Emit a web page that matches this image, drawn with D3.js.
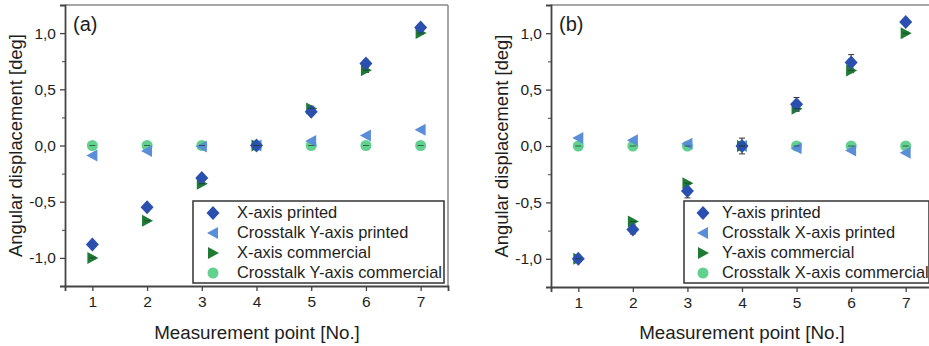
<!DOCTYPE html>
<html>
<head>
<meta charset="utf-8">
<script src="https://cdn.jsdelivr.net/npm/d3@7"></script>
<style>
  body { margin: 0; background: #fff; }
  svg { display: block; font-family: 'Liberation Sans', Arial, sans-serif; }
</style>
</head>
<body>
<div id="chart"></div>
<script>
// Dati — mjerne točke 1..7
const points = [1, 2, 3, 4, 5, 6, 7];
const yTicks = [-1, -0.5, 0, 0.5, 1];

// Panel (a)
const aPrinted      = [-0.88, -0.55, -0.29, 0.0, 0.30, 0.73, 1.05];
const aCrossPrinted = [-0.09, -0.05, -0.01, 0.0, 0.04, 0.09, 0.14];
const aCommercial   = [-1.0, -0.67, -0.34, 0.0, 0.33, 0.67, 1.0];
const aCrossComm    = [0, 0, 0, 0, 0, 0, 0];
const aPrintedErr   = [0.02, 0.02, 0.02, 0.02, 0.03, 0.03, 0.02];
const aCommErr      = [0.01, 0.01, 0.01, 0.02, 0.02, 0.02, 0.01];

// Panel (b)
const bPrinted      = [-1.0, -0.74, -0.40, 0.0, 0.37, 0.74, 1.10];
const bCrossPrinted = [0.07, 0.05, 0.02, 0.0, -0.02, -0.04, -0.06];
const bCommercial   = [-1.0, -0.67, -0.33, 0.0, 0.33, 0.67, 1.0];
const bCrossComm    = [0, 0, 0, 0, 0, 0, 0];
const bPrintedErr   = [0.02, 0.04, 0.06, 0.07, 0.06, 0.07, 0.02];
const bCommErr      = [0.01, 0.01, 0.01, 0.02, 0.02, 0.02, 0.01];

const aLabels = ['X-axis printed', 'Crosstalk Y-axis printed', 'X-axis commercial', 'Crosstalk Y-axis commercial'];
const bLabels = ['Y-axis printed', 'Crosstalk X-axis printed', 'Y-axis commercial', 'Crosstalk X-axis commercial'];

const COL = { printed: '#2b4fae', crossP: '#5b8ed8', comm: '#1f7a36', crossC: '#62d08e' };

const W = 929, H = 346;
const svg = d3.select('#chart').append('svg').attr('width', W).attr('height', H);

const fmt = d => d3.format('.1f')(d).replace('.', ',').replace('−', '-');

// Oblici markera
function marker(g, type, x, y, col) {
  if (type === 'diamond') {
    g.append('path').attr('d', `M${x},${y - 7}L${x + 6.5},${y}L${x},${y + 7}L${x - 6.5},${y}Z`).attr('fill', col);
  } else if (type === 'left') {
    g.append('path').attr('d', `M${x - 6},${y}L${x + 5},${y - 6}L${x + 5},${y + 6}Z`).attr('fill', col);
  } else if (type === 'right') {
    g.append('path').attr('d', `M${x + 6},${y}L${x - 5},${y - 6}L${x - 5},${y + 6}Z`).attr('fill', col);
  } else {
    g.append('circle').attr('cx', x).attr('cy', y).attr('r', 5.5).attr('fill', col);
  }
}

function panel(o) {
  const { left, right, top, bottom, series, labels, tag, legX, legMk, legTx, labX, titleX } = o;
  const x = d3.scaleLinear().domain([0.5, 7.5]).range([left, right]);
  const y = d3.scaleLinear().domain([-1.25, 1.25]).range([bottom, top]);
  const g = svg.append('g');

  // okvir — gornja i desna strana svjetlije
  g.append('line').attr('x1', left).attr('x2', right).attr('y1', top).attr('y2', top).attr('stroke', '#888').attr('stroke-width', 1.5);
  g.append('line').attr('x1', right).attr('x2', right).attr('y1', top).attr('y2', bottom).attr('stroke', '#888').attr('stroke-width', 1.5);

  const yAx = g.append('g').attr('transform', `translate(${left},0)`)
    .call(d3.axisLeft(y).tickValues(yTicks).tickFormat(fmt).tickSize(5).tickPadding(4));
  g.append('g').attr('transform', `translate(${left},0)`)
    .call(d3.axisLeft(y).tickValues([-0.75, -0.25, 0.25, 0.75]).tickFormat('').tickSize(3))
    .call(s => s.select('.domain').remove());
  const xAx = g.append('g').attr('transform', `translate(0,${bottom})`)
    .call(d3.axisBottom(x).tickValues(points).tickFormat(d3.format('d')).tickSize(5).tickPadding(5));
  [yAx, xAx].forEach(a => {
    a.selectAll('text').attr('font-size', 15.5).attr('fill', '#1e1e1e').attr('font-family', 'Liberation Sans, Arial');
    a.select('.domain').attr('stroke', '#444').attr('stroke-width', 1.8);
    a.selectAll('.tick line').attr('stroke', '#444').attr('stroke-width', 1.3);
  });
  g.selectAll('.tick line').attr('stroke', '#444');

  // naslovi osi
  g.append('text').attr('transform', `translate(${labX},${(top + bottom) / 2}) rotate(-90)`)
    .attr('text-anchor', 'middle').attr('dominant-baseline', 'middle')
    .attr('font-size', 18.4).attr('fill', '#1e1e1e').text('Angular displacement [deg]');
  g.append('text').attr('x', titleX).attr('y', 339)
    .attr('text-anchor', 'middle').attr('font-size', 18.8).attr('fill', '#1e1e1e').text('Measurement point [No.]');
  g.append('text').attr('x', left + 8).attr('y', top + 26).attr('font-size', 20).attr('fill', '#1e1e1e').text(tag);

  // error bars + markeri
  series.forEach(s => {
    points.forEach((p, i) => {
      const e = s.err ? s.err[i] : 0;
      if (e > 0) {
        const cx = x(p), y0 = y(s.vals[i] - e), y1 = y(s.vals[i] + e);
        g.append('line').attr('x1', cx).attr('x2', cx).attr('y1', y0).attr('y2', y1).attr('stroke', '#333').attr('stroke-width', 1);
        [y0, y1].forEach(yy => g.append('line').attr('x1', cx - 3).attr('x2', cx + 3).attr('y1', yy).attr('y2', yy).attr('stroke', '#333').attr('stroke-width', 1));
      }
    });
  });
  [3, 1, 2, 0].forEach(k => {
    const s = series[k];
    points.forEach((p, i) => marker(g, s.type, x(p), y(s.vals[i]), s.col));
  });
  // commercial error bars preko markera (tamne crtice)
  [2, 3].forEach(k => {
    const s = series[k];
    points.forEach((p, i) => {
      const cx = x(p), cy = y(s.vals[i]);
      g.append('line').attr('x1', cx - 3).attr('x2', cx + 3).attr('y1', cy).attr('y2', cy).attr('stroke', '#1a3a22').attr('stroke-width', 1).attr('opacity', .7);
    });
  });

  // legenda
  const lt = 201, lb = 283, lr = Math.min(right - 4, W + 20);
  g.append('rect').attr('x', legX).attr('y', lt).attr('width', lr - legX).attr('height', lb - lt)
    .attr('fill', '#fff').attr('stroke', '#333').attr('stroke-width', 1.5);
  labels.forEach((lab, i) => {
    const ly = 213 + i * 20;
    marker(g, series[i].type, legX + legMk, ly, series[i].col);
    g.append('text').attr('x', legX + legTx).attr('y', ly + 1).attr('dominant-baseline', 'middle')
      .attr('font-size', 16.4).attr('fill', '#1e1e1e').text(lab);
  });
}

const mkSeries = (p, cp, c, cc, pe, ce) => [
  { vals: p,  type: 'diamond', col: COL.printed, err: pe },
  { vals: cp, type: 'left',    col: COL.crossP },
  { vals: c,  type: 'right',   col: COL.comm, err: ce },
  { vals: cc, type: 'circle',  col: COL.crossC, err: ce },
];

panel({ left: 65, right: 448, top: 5, bottom: 286, tag: '(a)', legX: 193, legMk: 20, legTx: 44, labX: 17, titleX: 257,
  series: mkSeries(aPrinted, aCrossPrinted, aCommercial, aCrossComm, aPrintedErr, aCommErr), labels: aLabels });
panel({ left: 551, right: 933, top: 5, bottom: 287, tag: '(b)', legX: 684, legMk: 19, legTx: 38, labX: 503, titleX: 742,
  series: mkSeries(bPrinted, bCrossPrinted, bCommercial, bCrossComm, bPrintedErr, bCommErr), labels: bLabels });
</script>
</body>
</html>
